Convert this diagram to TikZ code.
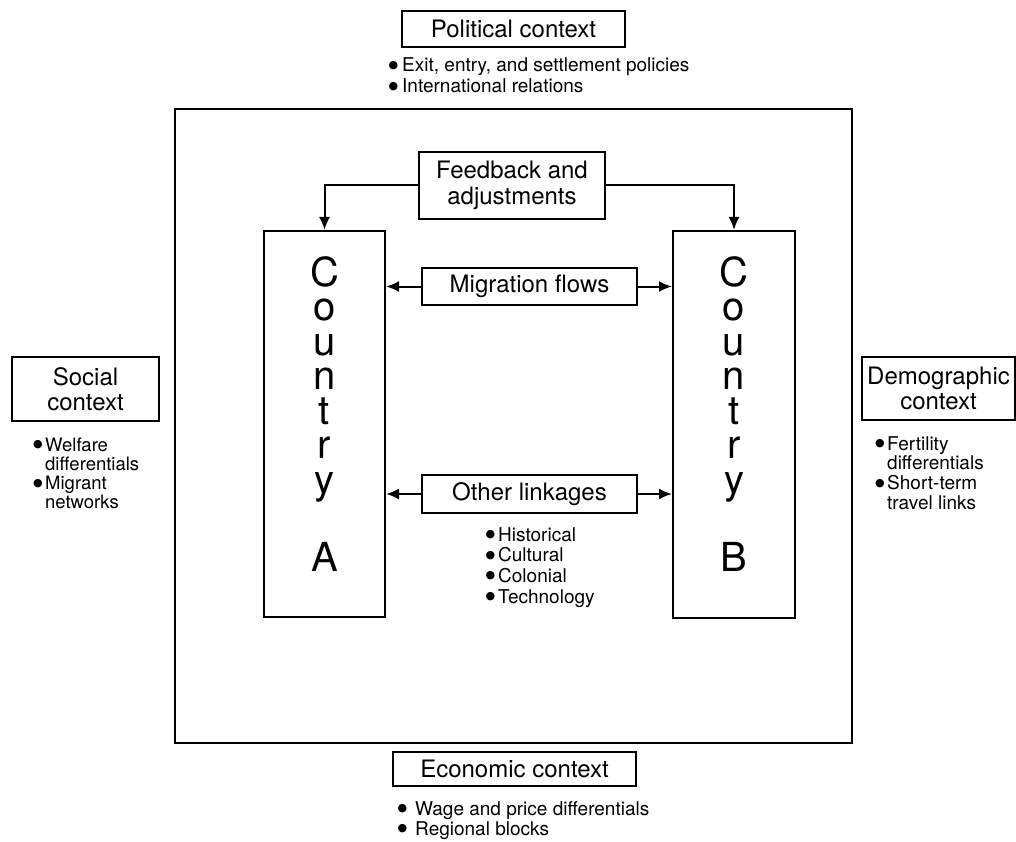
\documentclass[tikz,border=0pt]{standalone}
\usepackage{fontspec}
\setmainfont{TeX Gyre Heros}
\newfontfamily\dotfont{DejaVu Sans}
\usetikzlibrary{arrows.meta}
\newcommand\bitem[1]{\llap{\raisebox{3.5pt}{\dotfont\fontsize{11}{11}\selectfont ●}\hspace{#1}}}
\tikzset{
  box/.style={draw, line width=2pt, inner sep=0pt, align=center,
    font=\fontsize{24}{25.5}\selectfont},
  cbox/.style={draw, line width=2pt, inner sep=0pt},
  letters/.style={font=\fontsize{40}{34.5}\selectfont, align=center, anchor=south, inner sep=0pt},
  blist/.style={anchor=base west, inner sep=0pt, align=left},
  link/.style={line width=2pt, -{Latex[length=13pt,width=11pt]}},
}
\begin{document}
\begin{tikzpicture}[x=1pt,y=-1pt]
\useasboundingbox (0,0) rectangle (1016,842);
% outer frame
\node[draw, line width=2.4pt, minimum width=677pt, minimum height=634pt, inner sep=0pt] (frame) at (513.5,426) {};
% context boxes
\node[box, minimum width=223pt, minimum height=36pt] (pol) at (513.5,29) {Political context};
\node[blist, font=\fontsize{19}{21}\selectfont] (polb) at (402,72)
  {\begin{tabular}[t]{@{}l@{}}\bitem{4pt}Exit, entry, and settlement policies\\ \bitem{4pt}International relations\end{tabular}};
\node[box, minimum width=147pt, minimum height=64pt] (soc) at (85.5,389) {Social\\context};
\node[blist, font=\fontsize{18.5}{19.3}\selectfont] (socb) at (45,451)
  {\begin{tabular}[t]{@{}l@{}}\bitem{2.5pt}Welfare\\ differentials\\ \bitem{2.5pt}Migrant\\ networks\end{tabular}};
\node[box, minimum width=153pt, minimum height=63pt] (dem) at (938.5,388.5) {Demographic\\context};
\node[blist, font=\fontsize{19}{19.3}\selectfont] (demb) at (887,450)
  {\begin{tabular}[t]{@{}l@{}}\bitem{2.5pt}Fertility\\ differentials\\ \bitem{2.5pt}Short-term\\ travel links\end{tabular}};
\node[box, minimum width=243pt, minimum height=34pt] (eco) at (514.5,769) {Economic context};
\node[blist, font=\fontsize{19}{20}\selectfont] (ecob) at (415,815)
  {\begin{tabular}[t]{@{}l@{}}\bitem{8pt}Wage and price differentials\\ \bitem{8pt}Regional blocks\end{tabular}};
% inner boxes
\node[box, minimum width=186pt, minimum height=67pt] (fb) at (512,185.5) {Feedback and\\adjustments};
\node[box, minimum width=215pt, minimum height=37pt] (mig) at (529.5,286.5) {Migration flows};
\node[box, minimum width=215pt, minimum height=38pt] (oth) at (529.5,494) {Other linkages};
\node[blist, font=\fontsize{19}{20.7}\selectfont] (othb) at (498,541)
  {\begin{tabular}[t]{@{}l@{}}\bitem{3pt}Historical\\ \bitem{3pt}Cultural\\ \bitem{3pt}Colonial\\ \bitem{3pt}Technology\end{tabular}};
% countries
\node[cbox, minimum width=121pt, minimum height=386pt] (ca) at (324.5,424) {};
\node[cbox, minimum width=122pt, minimum height=387pt] (cb) at (734,424.5) {};
\node[letters] (la) at (324.5,572) {C\\o\\u\\n\\t\\r\\y\\[39.5pt]A};
\node[letters] (lb) at (734,572) {C\\o\\u\\n\\t\\r\\y\\[39.5pt]B};
% connectors
\draw[link] (fb.west) -| (ca.north);
\draw[link] (fb.east) -| (cb.north);
\draw[link] (mig.west) -- (mig.west -| ca.east);
\draw[link] (mig.east) -- (mig.east -| cb.west);
\draw[link] (oth.west) -- (oth.west -| ca.east);
\draw[link] (oth.east) -- (oth.east -| cb.west);
\end{tikzpicture}
\end{document}
